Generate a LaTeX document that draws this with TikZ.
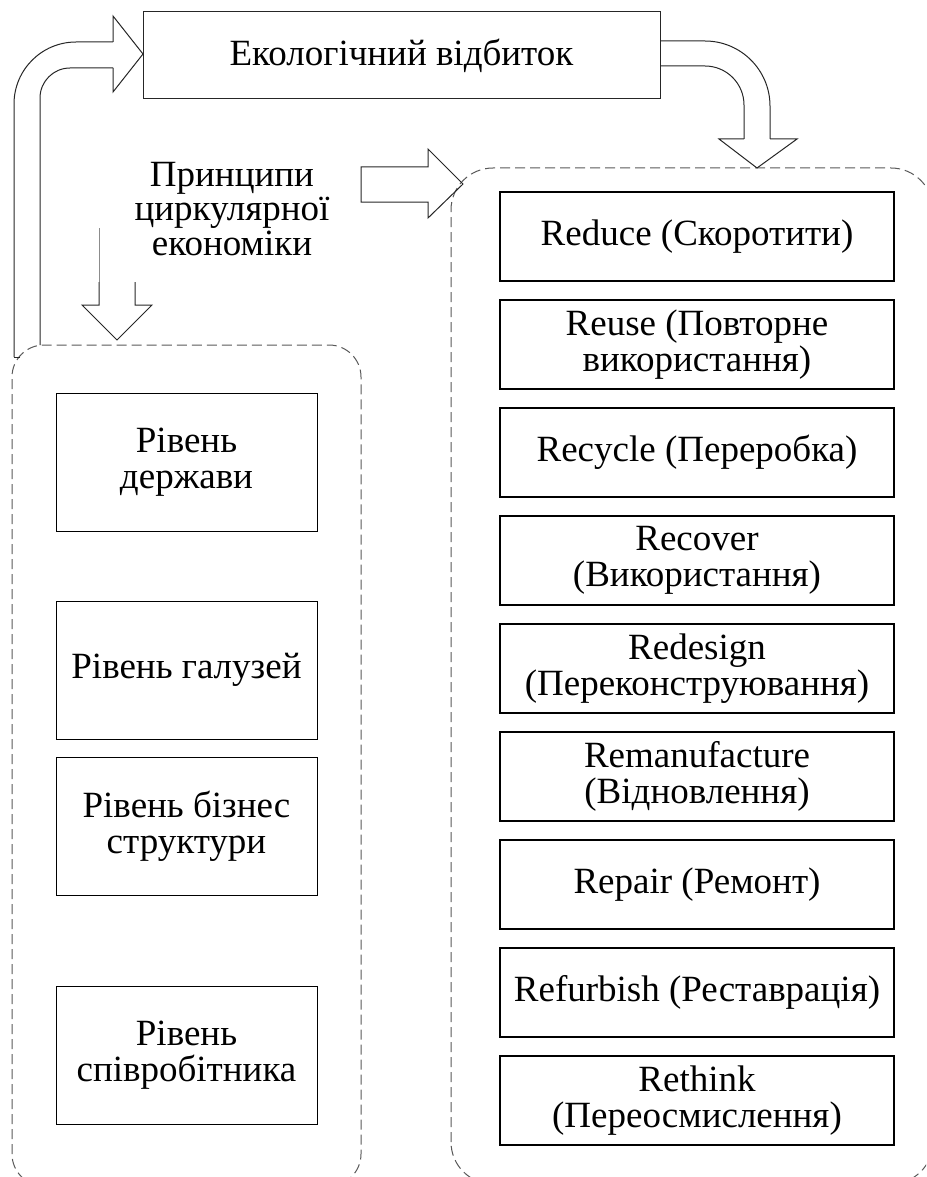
\documentclass[tikz,border=0pt]{standalone}
\usepackage{fontspec}
\setmainfont{Liberation Serif}
\newcommand\tightls{\lineskiplimit -100pt\relax}
\newcommand\mainfontset{\fontsize{37}{36}\selectfont\tightls}
\newcommand\prinfontset{\fontsize{37}{34.5}\selectfont\tightls}
\begin{document}
\begin{tikzpicture}[x=1pt,y=-1pt,
  rbox/.style={draw=black, line width=1.8pt, minimum width=394pt, minimum height=89pt, inner sep=0pt, align=center,
    font=\mainfontset},
  lbox/.style={draw=black, line width=1pt, minimum width=261pt, minimum height=138pt, inner sep=0pt, align=center,
    font=\mainfontset},
  ecobox/.style={draw=black!85, line width=1pt, minimum width=517pt, minimum height=87pt, inner sep=0pt,
    font=\mainfontset},
  plain/.style={inner sep=0pt, align=center, font=\prinfontset},
  cont/.style={draw=black!65, line width=1pt, dash pattern=on 10pt off 5pt},
  blockarrow/.style={draw=black!85, line width=1pt, line join=miter}
]
\useasboundingbox (0,0) rectangle (926,1177);
\clip (0,0) rectangle (926,1177);

% containers
\draw[cont, rounded corners=32pt] (12,1186) -- (12,345) -- (361,345) -- (361,1186) -- cycle;
\draw[cont, rounded corners=42pt] (451,1184) -- (451,168) -- (933,168) -- (933,1184) -- cycle;

% top box
\node[ecobox] (eco) at (401.5,55.5) {Екологічний відбиток};

% principle text
\node[plain] (prin) at (232,209) {Принципи\\циркулярної\\економіки};

% left boxes
\node[lbox] (l1) at (186.5,462) {Рівень\\держави};
\node[lbox] (l2) at (186.5,670) {Рівень галузей};
\node[lbox] (l3) at (186.5,826) {Рівень бізнес\\структури};
\node[lbox] (l4) at (186.5,1055) {Рівень\\співробітника};

% right boxes
\node[rbox] (r1) at (697,236.5) {Reduce (Скоротити)};
\node[rbox] (r2) at (697,344.5) {Reuse (Повторне\\використання)};
\node[rbox] (r3) at (697,452.5) {Recycle (Переробка)};
\node[rbox] (r4) at (697,560.5) {Recover\\(Використання)};
\node[rbox] (r5) at (697,668.5) {Redesign\\(Переконструювання)};
\node[rbox] (r6) at (697,776.5) {Remanufacture\\(Відновлення)};
\node[rbox] (r7) at (697,884.5) {Repair (Ремонт)};
\node[rbox] (r8) at (697,992.5) {Refurbish (Реставрація)};
\node[rbox] (r9) at (697,1100.5) {Rethink\\(Переосмислення)};

% left U-turn block arrow into eco
\coordinate (tipL) at (143,54);
\draw[blockarrow] (20,357) -- (14,357);
\draw[blockarrow, rounded corners=62pt] (14,357) -- (14,42) -- (113,42);
\draw[blockarrow] (113,42) -- (113,16) -- (tipL) -- (113,92) -- (113,68);
\draw[blockarrow, rounded corners=30pt] (113,68) -- (40,68) -- (40,345);

% right U-turn block arrow from eco
\coordinate (tipR) at (757,168);
\draw[blockarrow, rounded corners=65pt] (eco.east |- 0,41) -- (770,41) -- (770,139);
\draw[blockarrow] (770,139) -- (797,139) -- (tipR) -- (719,139) -- (744,139);
\draw[blockarrow, rounded corners=39pt] (744,139) -- (744,66) -- (eco.east |- 0,66);

% middle right arrow
\coordinate (tipM) at (463,184);
\draw[blockarrow] (361,167) -- (428,167) -- (428,149) -- (tipM) -- (428,218) -- (428,202) -- (361,202) -- cycle;

% down arrow
\coordinate (tipD) at (117,340);
\draw[black!45, line width=0.6pt] (99,228) -- (99,282);
\draw[blockarrow] (99,282) -- (99,305) -- (82,305) -- (tipD) -- (152,305) -- (135,305) -- (135,282);
\end{tikzpicture}
\end{document}
